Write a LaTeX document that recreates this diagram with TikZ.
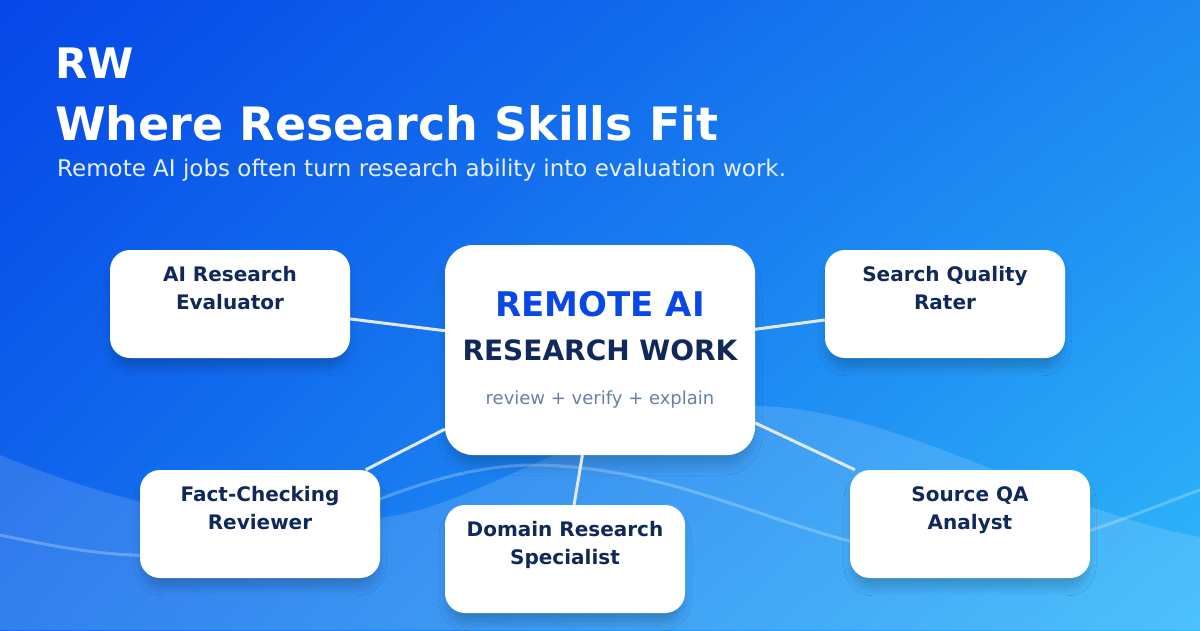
\documentclass[tikz,border=0pt]{standalone}
\usepackage{fontspec}
\setmainfont{DejaVu Sans}
\usetikzlibrary{shadings,shadows.blur}

\definecolor{bgtl}{HTML}{0546E8}
\definecolor{bgtr}{HTML}{1C88F0}
\definecolor{bgbl}{HTML}{116BEC}
\definecolor{bgbr}{HTML}{2FB8FB}
\definecolor{navy}{HTML}{10285A}
\definecolor{hubblue}{HTML}{0A48E6}
\definecolor{notegray}{HTML}{6A7FA3}
\definecolor{linkgray}{HTML}{E3E8EF}
\definecolor{tagwhite}{HTML}{E8F0FF}

\begin{document}
\begin{tikzpicture}[x=1pt,y=-1pt,
  role/.style={fill=white, rounded corners=20pt, minimum width=240pt, minimum height=108pt,
    align=center, text=navy, font=\fontsize{20pt}{28pt}\selectfont\bfseries, text depth=32pt,
    blur shadow={shadow xshift=0pt, shadow yshift=-10pt, shadow scale=0.97, shadow blur radius=10pt, shadow blur steps=15, shadow opacity=22}},
  hubbox/.style={fill=white, rounded corners=28pt, minimum width=310pt, minimum height=210pt,
    blur shadow={shadow xshift=0pt, shadow yshift=-12pt, shadow scale=0.97, shadow blur radius=12pt, shadow blur steps=15, shadow opacity=22}},
  plain/.style={inner sep=0pt, anchor=base},
  link/.style={draw=linkgray, line width=3pt}]

% background
\shade[upper left=bgtl, upper right=bgtr, lower left=bgbl, lower right=bgbr] (0,0) rectangle (1200,630);
\useasboundingbox (0,0) rectangle (1200,630);

% waves
\fill[white, fill opacity=0.14] (0,455) .. controls (120,505) and (280,545) .. (420,510)
  .. controls (520,480) and (620,405) .. (760,406) .. controls (900,410) and (1050,510) .. (1200,537)
  -- (1200,630) -- (0,630) -- cycle;
\draw[white, opacity=0.25, line width=3pt] (0,535) .. controls (80,552) and (120,558) .. (200,555)
  .. controls (300,550) and (400,468) .. (530,465) .. controls (700,465) and (820,560) .. (960,555)
  .. controls (1060,550) and (1130,515) .. (1200,490);

% heading
\node[plain, anchor=base west, text=white, font=\fontsize{42pt}{48pt}\selectfont\bfseries] (brand) at (55,78) {RW};
\node[plain, anchor=base west, text=white, font=\fontsize{46pt}{52pt}\selectfont\bfseries] (headline) at (55,140) {Where Research Skills Fit};
\node[plain, anchor=base west, text=tagwhite, font=\fontsize{23pt}{26pt}\selectfont] (tagline) at (57,176) {Remote AI jobs often turn research ability into evaluation work.};

% hub
\node[hubbox] (hub) at (600,350) {};
\node[plain, text=hubblue, font=\fontsize{34pt}{40pt}\selectfont\bfseries] (hubhead) at (600,316) {REMOTE AI};
\node[plain, text=navy, font=\fontsize{28pt}{32pt}\selectfont\bfseries] (hubsub) at (600,360) {RESEARCH WORK};
\node[plain, text=notegray, font=\fontsize{18pt}{20pt}\selectfont] (hubnote) at (600,404) {review + verify + explain};

% roles
\node[role] (evaluator) at (230,304) {AI Research\\Evaluator};
\node[role] (rater) at (945,304) {Search Quality\\Rater};
\node[role] (checker) at (260,524) {Fact-Checking\\Reviewer};
\node[role] (specialist) at (565,559) {Domain Research\\Specialist};
\node[role] (analyst) at (970,524) {Source QA\\Analyst};

\foreach \r in {evaluator,rater,checker,specialist,analyst}
  \draw[link] (hub) -- (\r);
\end{tikzpicture}
\end{document}
